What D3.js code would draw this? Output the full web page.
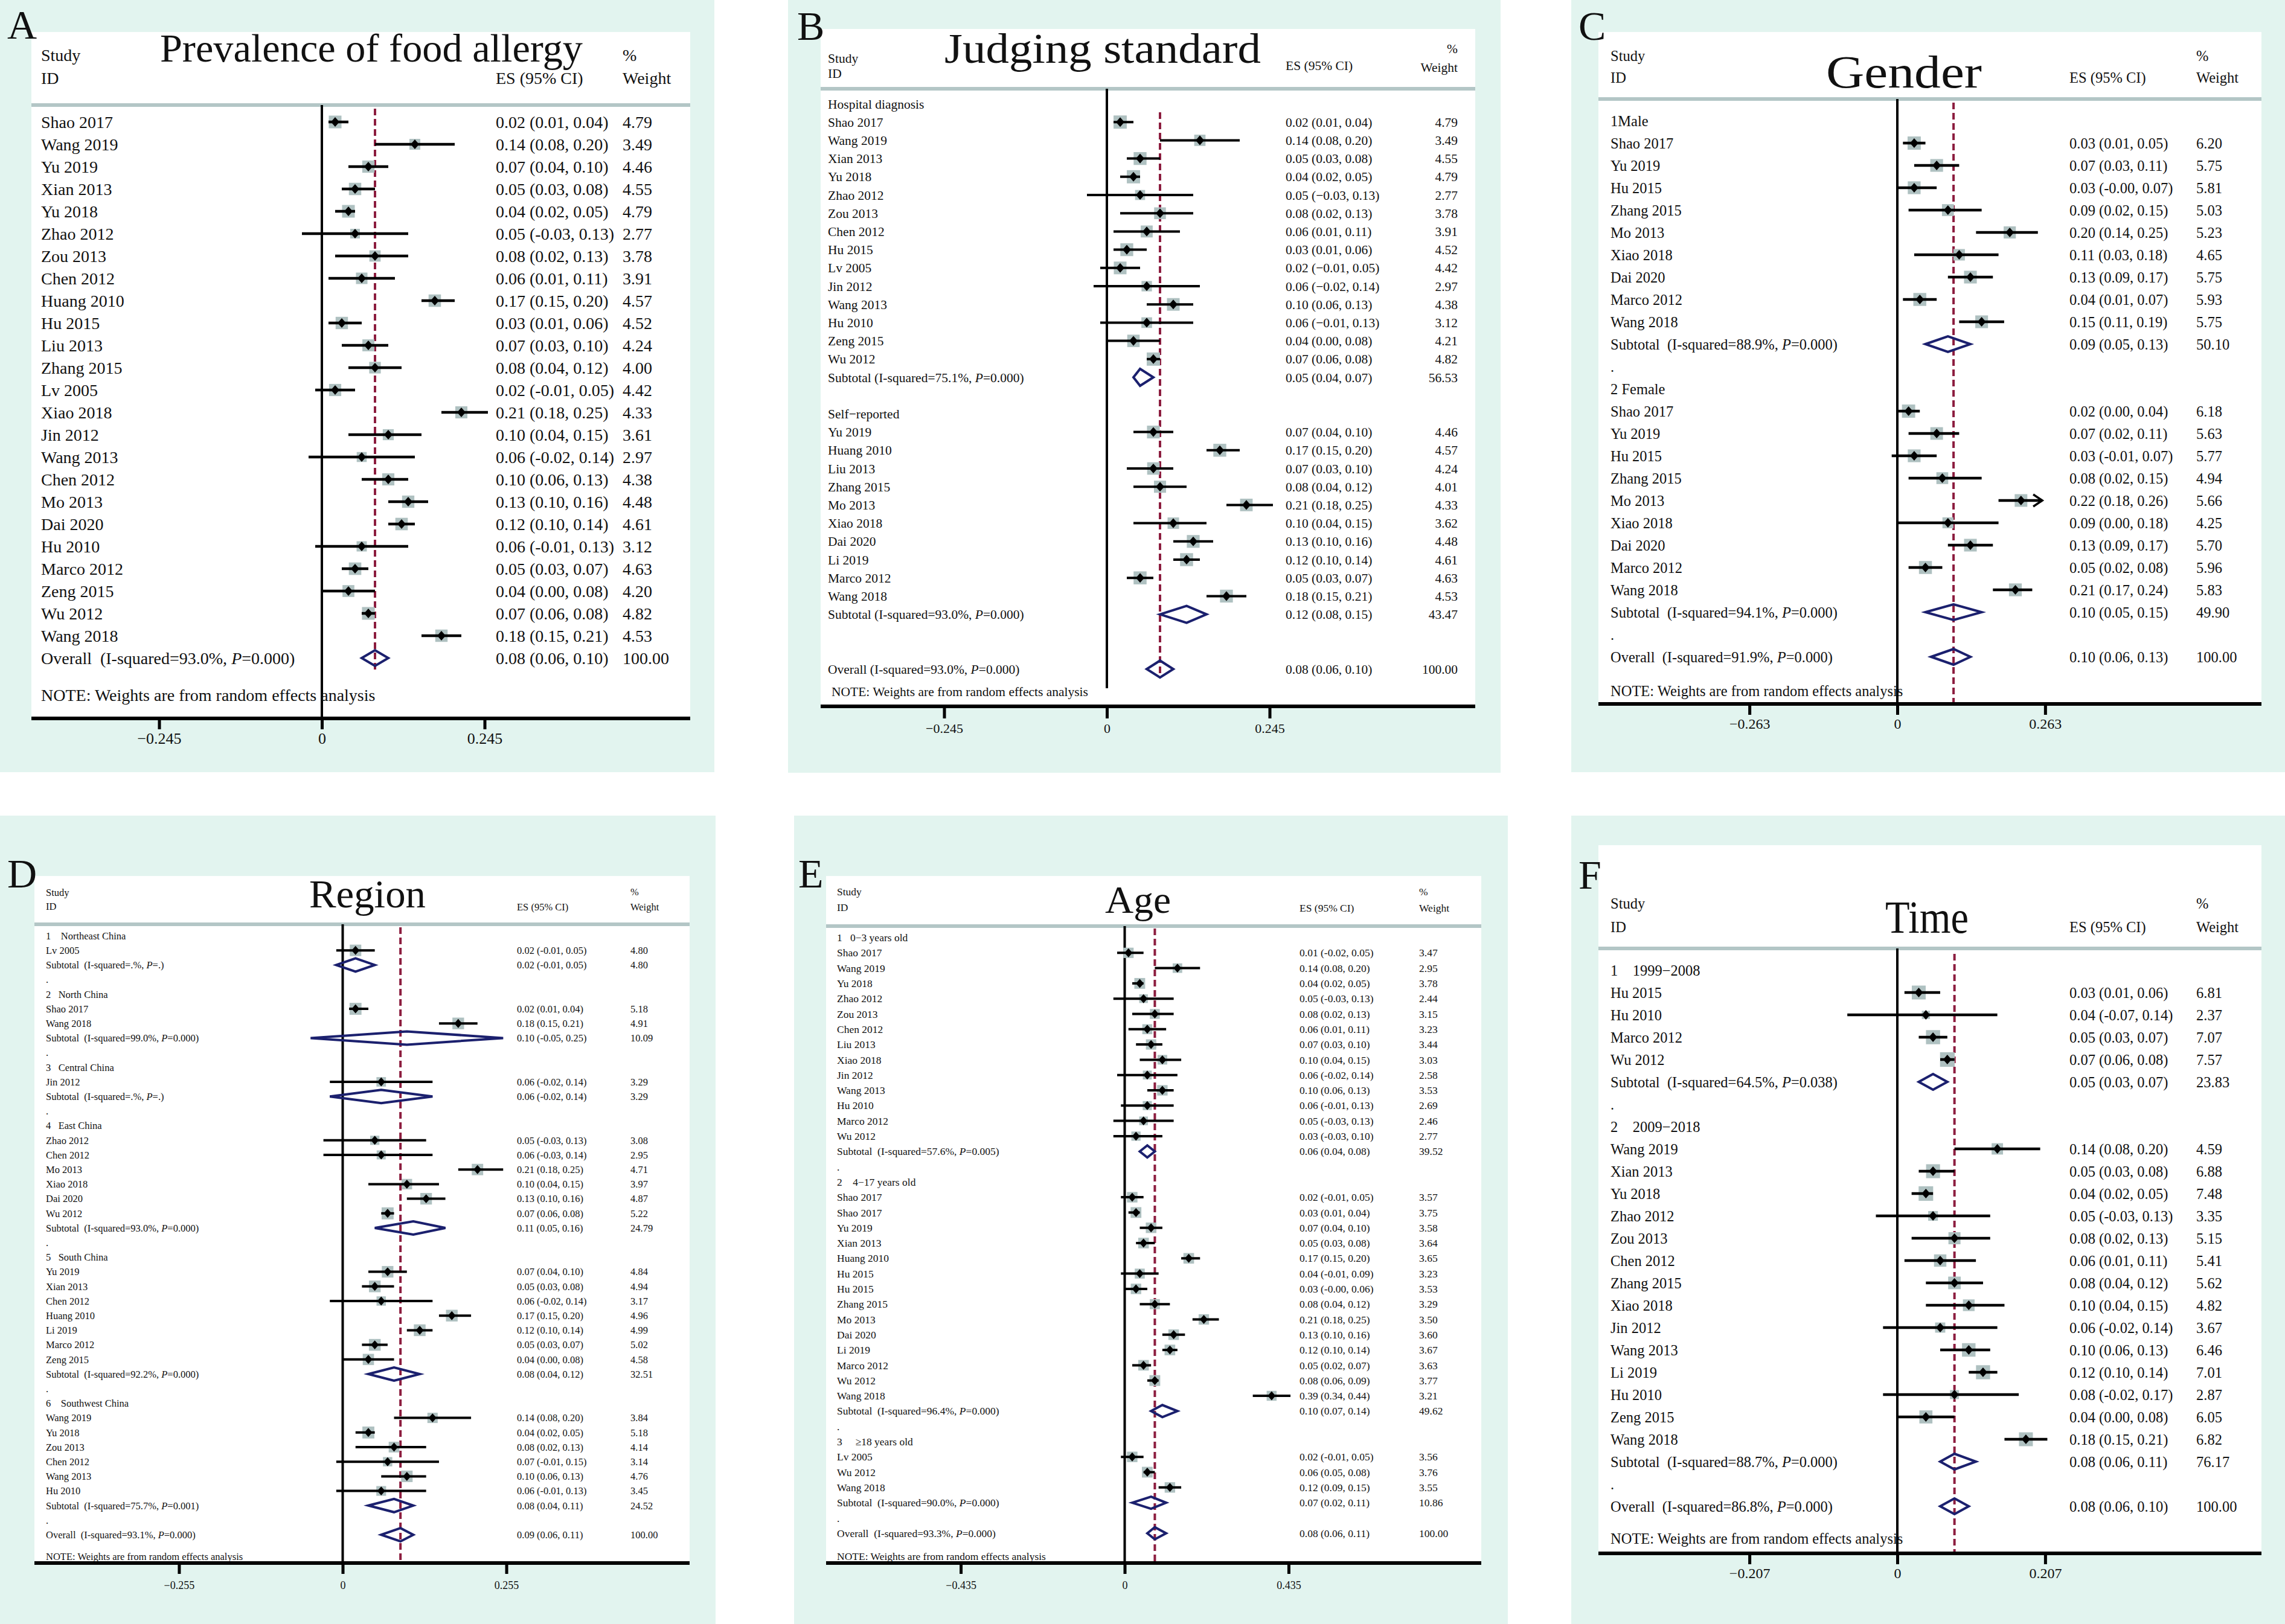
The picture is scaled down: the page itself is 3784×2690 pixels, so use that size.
<!DOCTYPE html>
<html><head><meta charset="utf-8">
<script src="https://cdn.jsdelivr.net/npm/d3@7"></script>
<style>
body{margin:0;background:#fff}
svg{display:block}
text{font-family:"Liberation Serif","Times New Roman",serif;fill:#111;white-space:pre}
</style>
</head><body>
<svg id="c" width="3784" height="2690"></svg>
<script>
// ---------------- DATA ----------------
// row: [label, ES, lower, upper, weight, kind]
// kind: s=study, a=study whose CI runs past the axis (arrow), h=group header, t=subtotal, o=overall, d=dot, b=blank
const rowsA = [
 ["Shao 2017",0.02,0.01,0.04,4.79],["Wang 2019",0.14,0.08,0.20,3.49],["Yu 2019",0.07,0.04,0.10,4.46],
 ["Xian 2013",0.05,0.03,0.08,4.55],["Yu 2018",0.04,0.02,0.05,4.79],["Zhao 2012",0.05,-0.03,0.13,2.77],
 ["Zou 2013",0.08,0.02,0.13,3.78],["Chen 2012",0.06,0.01,0.11,3.91],["Huang 2010",0.17,0.15,0.20,4.57],
 ["Hu 2015",0.03,0.01,0.06,4.52],["Liu 2013",0.07,0.03,0.10,4.24],["Zhang 2015",0.08,0.04,0.12,4.00],
 ["Lv 2005",0.02,-0.01,0.05,4.42],["Xiao 2018",0.21,0.18,0.25,4.33],["Jin 2012",0.10,0.04,0.15,3.61],
 ["Wang 2013",0.06,-0.02,0.14,2.97],["Chen 2012",0.10,0.06,0.13,4.38],["Mo 2013",0.13,0.10,0.16,4.48],
 ["Dai 2020",0.12,0.10,0.14,4.61],["Hu 2010",0.06,-0.01,0.13,3.12],["Marco 2012",0.05,0.03,0.07,4.63],
 ["Zeng 2015",0.04,0.00,0.08,4.20],["Wu 2012",0.07,0.06,0.08,4.82],["Wang 2018",0.18,0.15,0.21,4.53],
 ["Overall  (I-squared=93.0%, P=0.000)",0.08,0.06,0.10,100.00,"o"]
];
const rowsB = [
 ["Hospital diagnosis",null,null,null,null,"h"],
 ["Shao 2017",0.02,0.01,0.04,4.79],["Wang 2019",0.14,0.08,0.20,3.49],["Xian 2013",0.05,0.03,0.08,4.55],
 ["Yu 2018",0.04,0.02,0.05,4.79],["Zhao 2012",0.05,-0.03,0.13,2.77],["Zou 2013",0.08,0.02,0.13,3.78],
 ["Chen 2012",0.06,0.01,0.11,3.91],["Hu 2015",0.03,0.01,0.06,4.52],["Lv 2005",0.02,-0.01,0.05,4.42],
 ["Jin 2012",0.06,-0.02,0.14,2.97],["Wang 2013",0.10,0.06,0.13,4.38],["Hu 2010",0.06,-0.01,0.13,3.12],
 ["Zeng 2015",0.04,0.00,0.08,4.21],["Wu 2012",0.07,0.06,0.08,4.82],
 ["Subtotal (I-squared=75.1%, P=0.000)",0.05,0.04,0.07,56.53,"t"],
 ["",null,null,null,null,"b"],
 ["Self\u2212reported",null,null,null,null,"h"],
 ["Yu 2019",0.07,0.04,0.10,4.46],["Huang 2010",0.17,0.15,0.20,4.57],["Liu 2013",0.07,0.03,0.10,4.24],
 ["Zhang 2015",0.08,0.04,0.12,4.01],["Mo 2013",0.21,0.18,0.25,4.33],["Xiao 2018",0.10,0.04,0.15,3.62],
 ["Dai 2020",0.13,0.10,0.16,4.48],["Li 2019",0.12,0.10,0.14,4.61],["Marco 2012",0.05,0.03,0.07,4.63],
 ["Wang 2018",0.18,0.15,0.21,4.53],
 ["Subtotal (I-squared=93.0%, P=0.000)",0.12,0.08,0.15,43.47,"t"],
 ["",null,null,null,null,"b"],["",null,null,null,null,"b"],
 ["Overall (I-squared=93.0%, P=0.000)",0.08,0.06,0.10,100.00,"o"]
];
const rowsC = [
 ["1Male",null,null,null,null,"h"],
 ["Shao 2017",0.03,0.01,0.05,6.20],["Yu 2019",0.07,0.03,0.11,5.75],["Hu 2015",0.03,-0.00,0.07,5.81],
 ["Zhang 2015",0.09,0.02,0.15,5.03],["Mo 2013",0.20,0.14,0.25,5.23],["Xiao 2018",0.11,0.03,0.18,4.65],
 ["Dai 2020",0.13,0.09,0.17,5.75],["Marco 2012",0.04,0.01,0.07,5.93],["Wang 2018",0.15,0.11,0.19,5.75],
 ["Subtotal  (I-squared=88.9%, P=0.000)",0.09,0.05,0.13,50.10,"t"],
 [".",null,null,null,null,"d"],
 ["2 Female",null,null,null,null,"h"],
 ["Shao 2017",0.02,0.00,0.04,6.18],["Yu 2019",0.07,0.02,0.11,5.63],["Hu 2015",0.03,-0.01,0.07,5.77],
 ["Zhang 2015",0.08,0.02,0.15,4.94],["Mo 2013",0.22,0.18,0.26,5.66,"a"],["Xiao 2018",0.09,0.00,0.18,4.25],
 ["Dai 2020",0.13,0.09,0.17,5.70],["Marco 2012",0.05,0.02,0.08,5.96],["Wang 2018",0.21,0.17,0.24,5.83],
 ["Subtotal  (I-squared=94.1%, P=0.000)",0.10,0.05,0.15,49.90,"t"],
 [".",null,null,null,null,"d"],
 ["Overall  (I-squared=91.9%, P=0.000)",0.10,0.06,0.13,100.00,"o"]
];
const rowsD = [
 ["1    Northeast China",null,null,null,null,"h"],
 ["Lv 2005",0.02,-0.01,0.05,4.80],
 ["Subtotal  (I-squared=.%, P=.)",0.02,-0.01,0.05,4.80,"t"],
 [".",null,null,null,null,"d"],
 ["2   North China",null,null,null,null,"h"],
 ["Shao 2017",0.02,0.01,0.04,5.18],["Wang 2018",0.18,0.15,0.21,4.91],
 ["Subtotal  (I-squared=99.0%, P=0.000)",0.10,-0.05,0.25,10.09,"t"],
 [".",null,null,null,null,"d"],
 ["3   Central China",null,null,null,null,"h"],
 ["Jin 2012",0.06,-0.02,0.14,3.29],
 ["Subtotal  (I-squared=.%, P=.)",0.06,-0.02,0.14,3.29,"t"],
 [".",null,null,null,null,"d"],
 ["4   East China",null,null,null,null,"h"],
 ["Zhao 2012",0.05,-0.03,0.13,3.08],["Chen 2012",0.06,-0.03,0.14,2.95],["Mo 2013",0.21,0.18,0.25,4.71],
 ["Xiao 2018",0.10,0.04,0.15,3.97],["Dai 2020",0.13,0.10,0.16,4.87],["Wu 2012",0.07,0.06,0.08,5.22],
 ["Subtotal  (I-squared=93.0%, P=0.000)",0.11,0.05,0.16,24.79,"t"],
 [".",null,null,null,null,"d"],
 ["5   South China",null,null,null,null,"h"],
 ["Yu 2019",0.07,0.04,0.10,4.84],["Xian 2013",0.05,0.03,0.08,4.94],["Chen 2012",0.06,-0.02,0.14,3.17],
 ["Huang 2010",0.17,0.15,0.20,4.96],["Li 2019",0.12,0.10,0.14,4.99],["Marco 2012",0.05,0.03,0.07,5.02],
 ["Zeng 2015",0.04,0.00,0.08,4.58],
 ["Subtotal  (I-squared=92.2%, P=0.000)",0.08,0.04,0.12,32.51,"t"],
 [".",null,null,null,null,"d"],
 ["6    Southwest China",null,null,null,null,"h"],
 ["Wang 2019",0.14,0.08,0.20,3.84],["Yu 2018",0.04,0.02,0.05,5.18],["Zou 2013",0.08,0.02,0.13,4.14],
 ["Chen 2012",0.07,-0.01,0.15,3.14],["Wang 2013",0.10,0.06,0.13,4.76],["Hu 2010",0.06,-0.01,0.13,3.45],
 ["Subtotal  (I-squared=75.7%, P=0.001)",0.08,0.04,0.11,24.52,"t"],
 [".",null,null,null,null,"d"],
 ["Overall  (I-squared=93.1%, P=0.000)",0.09,0.06,0.11,100.00,"o"]
];
const rowsE = [
 ["1   0\u22123 years old",null,null,null,null,"h"],
 ["Shao 2017",0.01,-0.02,0.05,3.47],["Wang 2019",0.14,0.08,0.20,2.95],["Yu 2018",0.04,0.02,0.05,3.78],
 ["Zhao 2012",0.05,-0.03,0.13,2.44],["Zou 2013",0.08,0.02,0.13,3.15],["Chen 2012",0.06,0.01,0.11,3.23],
 ["Liu 2013",0.07,0.03,0.10,3.44],["Xiao 2018",0.10,0.04,0.15,3.03],["Jin 2012",0.06,-0.02,0.14,2.58],
 ["Wang 2013",0.10,0.06,0.13,3.53],["Hu 2010",0.06,-0.01,0.13,2.69],["Marco 2012",0.05,-0.03,0.13,2.46],
 ["Wu 2012",0.03,-0.03,0.10,2.77],
 ["Subtotal  (I-squared=57.6%, P=0.005)",0.06,0.04,0.08,39.52,"t"],
 [".",null,null,null,null,"d"],
 ["2    4\u221217 years old",null,null,null,null,"h"],
 ["Shao 2017",0.02,-0.01,0.05,3.57],["Shao 2017",0.03,0.01,0.04,3.75],["Yu 2019",0.07,0.04,0.10,3.58],
 ["Xian 2013",0.05,0.03,0.08,3.64],["Huang 2010",0.17,0.15,0.20,3.65],["Hu 2015",0.04,-0.01,0.09,3.23],
 ["Hu 2015",0.03,-0.00,0.06,3.53],["Zhang 2015",0.08,0.04,0.12,3.29],["Mo 2013",0.21,0.18,0.25,3.50],
 ["Dai 2020",0.13,0.10,0.16,3.60],["Li 2019",0.12,0.10,0.14,3.67],["Marco 2012",0.05,0.02,0.07,3.63],
 ["Wu 2012",0.08,0.06,0.09,3.77],["Wang 2018",0.39,0.34,0.44,3.21],
 ["Subtotal  (I-squared=96.4%, P=0.000)",0.10,0.07,0.14,49.62,"t"],
 [".",null,null,null,null,"d"],
 ["3     \u226518 years old",null,null,null,null,"h"],
 ["Lv 2005",0.02,-0.01,0.05,3.56],["Wu 2012",0.06,0.05,0.08,3.76],["Wang 2018",0.12,0.09,0.15,3.55],
 ["Subtotal  (I-squared=90.0%, P=0.000)",0.07,0.02,0.11,10.86,"t"],
 [".",null,null,null,null,"d"],
 ["Overall  (I-squared=93.3%, P=0.000)",0.08,0.06,0.11,100.00,"o"]
];
const rowsF = [
 ["1    1999\u22122008",null,null,null,null,"h"],
 ["Hu 2015",0.03,0.01,0.06,6.81],["Hu 2010",0.04,-0.07,0.14,2.37],["Marco 2012",0.05,0.03,0.07,7.07],
 ["Wu 2012",0.07,0.06,0.08,7.57],
 ["Subtotal  (I-squared=64.5%, P=0.038)",0.05,0.03,0.07,23.83,"t"],
 [".",null,null,null,null,"d"],
 ["2    2009\u22122018",null,null,null,null,"h"],
 ["Wang 2019",0.14,0.08,0.20,4.59],["Xian 2013",0.05,0.03,0.08,6.88],["Yu 2018",0.04,0.02,0.05,7.48],
 ["Zhao 2012",0.05,-0.03,0.13,3.35],["Zou 2013",0.08,0.02,0.13,5.15],["Chen 2012",0.06,0.01,0.11,5.41],
 ["Zhang 2015",0.08,0.04,0.12,5.62],["Xiao 2018",0.10,0.04,0.15,4.82],["Jin 2012",0.06,-0.02,0.14,3.67],
 ["Wang 2013",0.10,0.06,0.13,6.46],["Li 2019",0.12,0.10,0.14,7.01],["Hu 2010",0.08,-0.02,0.17,2.87],
 ["Zeng 2015",0.04,0.00,0.08,6.05],["Wang 2018",0.18,0.15,0.21,6.82],
 ["Subtotal  (I-squared=88.7%, P=0.000)",0.08,0.06,0.11,76.17,"t"],
 [".",null,null,null,null,"d"],
 ["Overall  (I-squared=86.8%, P=0.000)",0.08,0.06,0.10,100.00,"o"]
];
const ticksA = [-0.245, 0, 0.245];
const ticksB = [-0.245, 0, 0.245];
const ticksC = [-0.263, 0, 0.263];
const ticksD = [-0.255, 0, 0.255];
const ticksE = [-0.435, 0, 0.435];
const ticksF = [-0.207, 0, 0.207];
const titles = ["Prevalence of food allergy","Judging standard","Gender","Region","Age","Time"];
const letters = ["A","B","C","D","E","F"];
const noteText = "NOTE: Weights are from random effects analysis";

// ---------------- LAYOUT ----------------
const MINT="#e2f4ef", HDR="#b3c6c6", BOX="#afc1c1", NAVY="#1b206e", MAROON="#8c1d3f";
const FONT = '"Liberation Serif","Times New Roman",serif';
const layouts = [
 {mint:[0,0,1183,1279], white:[52,53,1143,1190], letter:[12,64,68], title:[265,102,66,700],
  font:28, labelX:68, esX:821, wX:1031, wAlign:"start", hdr:[91,129,129,91,129], hdrLineY:174,
  y0:202, step:37, zero:533, unit:1100, axisY:1190, tickLen:18, tickPad:6, tickFont:26,
  zeroLine:[174,1190], dash:[180,1110], boxK:9.6, ptR:7, ciW:4.5, diaH:13, noteY:1151, minus:"-"},
 {mint:[1305,0,2485,1280], white:[1359,48,2443,1170], letter:[1320,66,68], title:[1564,104,70,524],
  font:21.5, labelX:1371, esX:2129, wX:2414, wAlign:"end", hdr:[96,121,108,80,111], hdrLineY:147,
  y0:172, step:30.2, zero:1833, unit:1100, axisY:1170, tickLen:20, tickPad:8, tickFont:22,
  zeroLine:[147,1140], dash:[186,1123], boxK:10, ptR:7, ciW:4, diaH:14, noteY:1145, noteX:1377, minus:"\u2212"},
 {mint:[2602,0,3784,1279], white:[2647,53,3745,1166], letter:[2614,66,68], title:[3024,145,76,258],
  font:24.5, labelX:2667, esX:3427, wX:3637, wAlign:"start", hdr:[92,128,128,92,128], hdrLineY:164,
  y0:200, step:37, zero:3142, unit:931, axisY:1166, tickLen:18, tickPad:6, tickFont:24,
  zeroLine:[164,1166], dash:[170,1166], boxK:8.8, ptR:7, ciW:4.5, diaH:13, noteY:1144, minus:"-"},
 {mint:[0,1351,1185,2690], white:[57,1451,1142,2589], letter:[12,1470,68], title:[512,1503,65,193],
  font:16.5, labelX:76, esX:856, wX:1044, wAlign:"start", hdr:[1478,1501,1502,1477,1502], hdrLineY:1531,
  y0:1550, step:24.2, zero:567.5, unit:1063, axisY:2589, tickLen:18, tickPad:12, tickFont:18,
  zeroLine:[1531,2589], dash:[1536,2589], boxK:8.7, ptR:6.5, ciW:4, diaH:11, noteY:2578, minus:"-"},
 {mint:[1315,1351,2497,2690], white:[1368,1451,2453,2589], letter:[1322,1470,68], title:[1830,1512,64,109],
  font:17.5, labelX:1386, esX:2152, wX:2350, wAlign:"start", hdr:[1477,1503,1504,1477,1504], hdrLineY:1534,
  y0:1553, step:25.3, zero:1862.5, unit:624, axisY:2589, tickLen:18, tickPad:12, tickFont:18,
  zeroLine:[1534,2589], dash:[1538,2589], boxK:9.2, ptR:6.5, ciW:4, diaH:10, noteY:2578, minus:"-"},
 {mint:[2602,1351,3784,2690], white:[2647,1400,3745,2573], letter:[2614,1472,68], title:[3122,1545,76,138],
  font:24.5, labelX:2667, esX:3427, wX:3637, wAlign:"start", hdr:[1496,1535,1535,1496,1535], hdrLineY:1571,
  y0:1607, step:37, zero:3142, unit:1183, axisY:2573, tickLen:18, tickPad:6, tickFont:24,
  zeroLine:[1571,2573], dash:[1580,2573], boxK:8.8, ptR:7, ciW:4.5, diaH:13, noteY:2548, minus:"-"}
];

const svg = d3.select("#c");
svg.append("rect").attr("width",3784).attr("height",2690).attr("fill","#fff");

function fmtNum(v, minus){ const neg = v < 0 || Object.is(v,-0); return (neg?minus:"") + Math.abs(v).toFixed(2); }

function addText(g, x, y, size, txt, anchor){
  const t = g.append("text").attr("x",x).attr("y",y).attr("dy","0.35em").attr("font-size",size)
    .attr("text-anchor",anchor||"start").attr("xml:space","preserve");
  const k = txt.indexOf("P=");
  if (k >= 0){
    t.append("tspan").text(txt.slice(0,k));
    t.append("tspan").attr("font-style","italic").text("P");
    t.append("tspan").text(txt.slice(k+1));
  } else t.text(txt);
  return t;
}

function drawPanel(L, rows, ticks, title, letter){
  const g = svg.append("g");
  const [mx0,my0,mx1,my1] = L.mint, [wx0,wy0,wx1,wy1] = L.white;
  g.append("rect").attr("x",mx0).attr("y",my0).attr("width",mx1-mx0).attr("height",my1-my0).attr("fill",MINT);
  g.append("rect").attr("x",wx0).attr("y",wy0).attr("width",wx1-wx0).attr("height",wy1-wy0).attr("fill","#fff");
  g.append("text").attr("x",L.letter[0]).attr("y",L.letter[1]).attr("font-size",L.letter[2]).text(letter);
  g.append("text").attr("x",L.title[0]).attr("y",L.title[1]).attr("font-size",L.title[2])
    .attr("textLength",L.title[3]).attr("lengthAdjust","spacingAndGlyphs").text(title);
  const fs = L.font;
  addText(g, L.labelX, L.hdr[0], fs, "Study");
  addText(g, L.labelX, L.hdr[1], fs, "ID");
  addText(g, L.esX, L.hdr[2], fs, "ES (95% CI)");
  addText(g, L.wX, L.hdr[3], fs, "%", L.wAlign);
  addText(g, L.wX, L.hdr[4], fs, "Weight", L.wAlign);
  g.append("line").attr("x1",wx0).attr("x2",wx1).attr("y1",L.hdrLineY).attr("y2",L.hdrLineY)
    .attr("stroke",HDR).attr("stroke-width",6);

  const xmax = ticks[ticks.length-1];
  const x = d3.scaleLinear().domain([0,1]).range([L.zero, L.zero+L.unit]);
  const y = d3.scaleLinear().domain([0,1]).range([L.y0, L.y0+L.step]);

  g.append("line").attr("x1",x(0)).attr("x2",x(0)).attr("y1",L.zeroLine[0]).attr("y2",L.zeroLine[1])
    .attr("stroke","#000").attr("stroke-width",4);
  const ov = rows.find(r => r[5]==="o");
  g.append("line").attr("x1",x(ov[1])).attr("x2",x(ov[1])).attr("y1",L.dash[0]).attr("y2",L.dash[1])
    .attr("stroke",MAROON).attr("stroke-width",4).attr("stroke-dasharray","11,6");

  rows.forEach((r,i) => {
    const yy = y(i), kind = r[5] || "s";
    if (r[0]) addText(g, L.labelX, yy, fs, r[0]);
    if (kind==="s" || kind==="a"){
      const side = L.boxK*Math.sqrt(r[4]);
      g.append("rect").attr("x",x(r[1])-side/2).attr("y",yy-side/2).attr("width",side).attr("height",side).attr("fill",BOX);
      const arrow = kind==="a";
      const hiX = arrow ? Math.min(x(r[3]), x(xmax)) - 2 : x(r[3]);
      g.append("line").attr("x1",x(r[2])).attr("x2",hiX).attr("y1",yy).attr("y2",yy)
        .attr("stroke","#000").attr("stroke-width",L.ciW);
      if (arrow){
        g.append("path").attr("d",`M${hiX-15},${yy-10}L${hiX},${yy}L${hiX-15},${yy+10}`)
          .attr("fill","none").attr("stroke","#000").attr("stroke-width",3.5);
      }
      const p = L.ptR, cx = x(r[1]);
      g.append("path").attr("d",`M${cx-p},${yy}L${cx},${yy-p*1.15}L${cx+p},${yy}L${cx},${yy+p*1.15}Z`).attr("fill","#000");
    } else if (kind==="t" || kind==="o"){
      const h = L.diaH;
      g.append("path").attr("d",`M${x(r[2])},${yy}L${x(r[1])},${yy-h}L${x(r[3])},${yy}L${x(r[1])},${yy+h}Z`)
        .attr("fill","none").attr("stroke",NAVY).attr("stroke-width",4).attr("stroke-linejoin","miter");
    }
    if (kind==="s" || kind==="a" || kind==="t" || kind==="o"){
      addText(g, L.esX, yy, fs, `${fmtNum(r[1],L.minus)} (${fmtNum(r[2],L.minus)}, ${fmtNum(r[3],L.minus)})`);
      addText(g, L.wX, yy, fs, r[4].toFixed(2), L.wAlign);
    }
  });
  addText(g, L.noteX || L.labelX, L.noteY, fs, noteText);

  g.append("line").attr("x1",wx0).attr("x2",wx1).attr("y1",L.axisY).attr("y2",L.axisY)
    .attr("stroke","#000").attr("stroke-width",6);
  const axis = d3.axisBottom(x).tickValues(ticks).tickSize(L.tickLen).tickSizeOuter(0).tickPadding(L.tickPad)
    .tickFormat(v => v===0 ? "0" : d3.format(".3f")(v));
  const ag = g.append("g").attr("transform",`translate(0,${L.axisY})`).call(axis);
  ag.attr("font-family",FONT).attr("font-size",L.tickFont);
  ag.select(".domain").remove();
  ag.selectAll(".tick line").attr("stroke","#000").attr("stroke-width",5);
  ag.selectAll(".tick text").attr("fill","#111");
}

const allRows = [rowsA,rowsB,rowsC,rowsD,rowsE,rowsF];
const allTicks = [ticksA,ticksB,ticksC,ticksD,ticksE,ticksF];
layouts.forEach((L,i) => drawPanel(L, allRows[i], allTicks[i], titles[i], letters[i]));
</script>
</body></html>
